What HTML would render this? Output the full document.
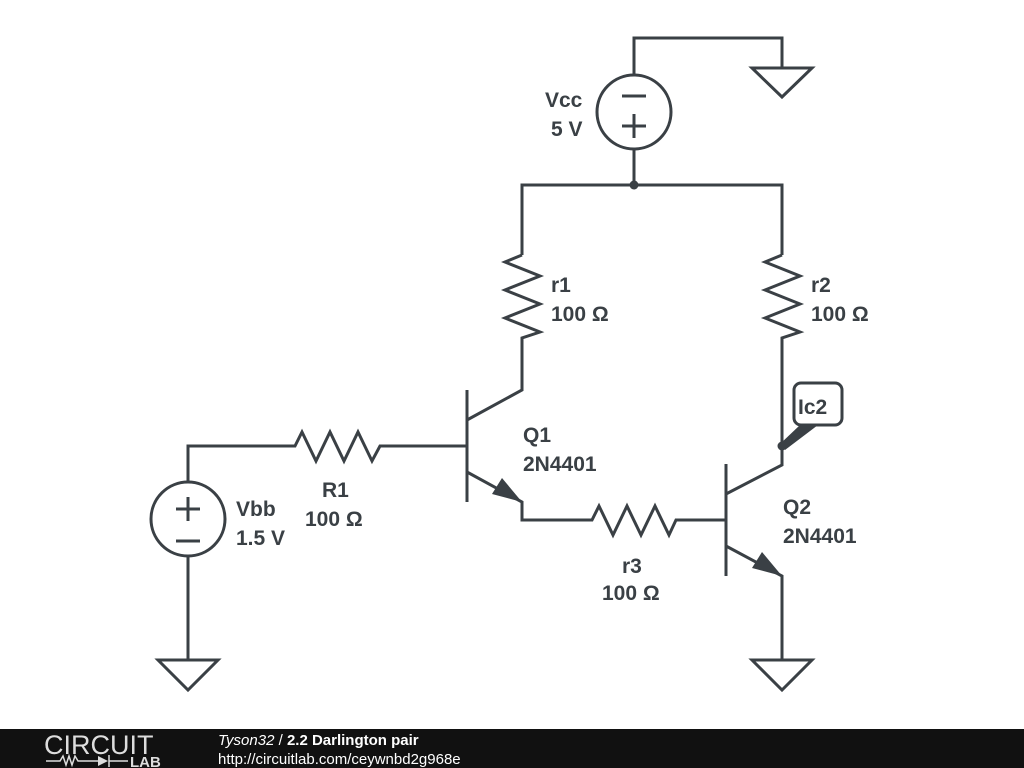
<!DOCTYPE html>
<html><head><meta charset="utf-8"><style>
html,body{margin:0;padding:0;background:#fff;width:1024px;height:768px;overflow:hidden}
text{font-family:"Liberation Sans",sans-serif;font-weight:bold;fill:#3a4045;font-size:21px}
</style></head><body>
<svg width="1024" height="768" viewBox="0 0 1024 768" xmlns="http://www.w3.org/2000/svg">
<g fill="none" stroke="#3a4045" stroke-width="3" stroke-linejoin="miter">
<polyline points="634,75 634,38 782,38 782,68"/>
<polygon points="752,68 812,68 782,97"/>
<circle cx="634" cy="112" r="37"/>
<line x1="622" y1="96" x2="646" y2="96"/>
<line x1="622" y1="126" x2="646" y2="126"/><line x1="634" y1="114" x2="634" y2="138"/>
<line x1="634" y1="149" x2="634" y2="185"/>
<polyline points="522,255 522,185 782,185 782,255"/>
<polyline points="522,255 505,262 540,276 505,290 540,304 505,318 540,332 522,338 522,390 467,420"/>
<polyline points="782,255 765,262 800,276 765,290 800,304 765,318 800,332 782,338 782,465 726,494"/>
<line x1="467" y1="390" x2="467" y2="502"/>
<polyline points="188,482 188,446 295,446 302,432 316,461 330,432 344,461 358,432 372,461 380,446 467,446"/>
<polyline points="467,472 522,502 522,520 592,520 599,506 613,535 627,506 641,535 655,506 669,535 676,520 726,520"/>
<line x1="726" y1="464" x2="726" y2="576"/>
<polyline points="726,546 782,576 782,660"/>
<polygon points="752,660 812,660 782,690"/>
<circle cx="188" cy="519" r="37"/>
<line x1="176" y1="509" x2="200" y2="509"/><line x1="188" y1="497" x2="188" y2="521"/>
<line x1="176" y1="541" x2="200" y2="541"/>
<line x1="188" y1="556" x2="188" y2="660"/>
<polygon points="158,660 218,660 188,690"/>
<rect x="794" y="383" width="48" height="42" rx="7" fill="#fff"/>
</g>
<g fill="#3a4045">
<circle cx="634" cy="185" r="4.5"/>
<circle cx="782" cy="446" r="4.5"/>
<polygon points="780,444 800,425 818,425 785,450"/>
<polygon points="522,502 492,494 502,478"/>
<polygon points="782,576 752,568 762,552"/>
</g>
<text x="545" y="107">Vcc</text><text x="551" y="136">5 V</text>
<text x="551" y="292">r1</text><text x="551" y="321">100 Ω</text>
<text x="811" y="292">r2</text><text x="811" y="321">100 Ω</text>
<text x="523" y="442">Q1</text><text x="523" y="471">2N4401</text>
<text x="783" y="514">Q2</text><text x="783" y="543">2N4401</text>
<text x="322" y="497">R1</text><text x="305" y="526">100 Ω</text>
<text x="236" y="516">Vbb</text><text x="236" y="545">1.5 V</text>
<text x="622" y="573">r3</text><text x="602" y="600">100 Ω</text>
<text x="798" y="414">Ic2</text>
<rect x="0" y="729" width="1024" height="39" fill="#111"/>
<text x="44" y="754" style="font-weight:normal;font-size:27px;fill:#ddd">CIRCUIT</text>
<text x="130" y="767" style="font-size:15px;fill:#ddd">LAB</text>
<polyline points="46,761 60,761 63,756 66,765 69,756 72,765 75,756 78,761 98,761" fill="none" stroke="#ddd" stroke-width="1.5"/>
<polygon points="98,756 98,766 108,761" fill="#ddd"/>
<line x1="109" y1="755" x2="109" y2="767" stroke="#ddd" stroke-width="1.5"/>
<line x1="109" y1="761" x2="128" y2="761" stroke="#ddd" stroke-width="1.5"/>
<text x="218" y="745" style="font-size:15px;fill:#fff;font-weight:normal;font-style:italic">Tyson32 <tspan style="font-style:normal">/</tspan> <tspan style="font-weight:bold;font-style:normal">2.2 Darlington pair</tspan></text>
<text x="218" y="764" style="font-size:15px;fill:#fff;font-weight:normal">http://circuitlab.com/ceywnbd2g968e</text>
</svg>
</body></html>
